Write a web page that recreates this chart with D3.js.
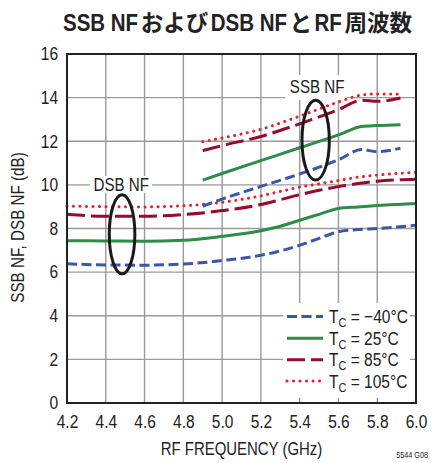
<!DOCTYPE html>
<html>
<head>
<meta charset="utf-8">
<script src="https://cdn.jsdelivr.net/npm/d3@7/dist/d3.min.js"></script>
<style>
  html, body { margin: 0; padding: 0; background: #fff; }
  svg { display: block; }
  text { font-family: "Liberation Sans", Arial, sans-serif; fill: #222; }
</style>
</head>
<body>
<svg id="chart" width="433" height="463"></svg>
<script>
// Noise figure vs RF frequency, four case temperatures
const dsbFreq = [4.2, 4.4, 4.6, 4.8, 5.0, 5.2, 5.3, 5.4, 5.5, 5.6, 5.7, 5.8, 5.9, 6.0];
const dsbM40  = [6.38, 6.33, 6.32, 6.37, 6.53, 6.77, 6.97, 7.23, 7.55, 7.85, 7.95, 8.0, 8.07, 8.15];
const dsb25   = [7.44, 7.43, 7.42, 7.46, 7.64, 7.9, 8.1, 8.38, 8.65, 8.92, 8.99, 9.05, 9.1, 9.15];
const dsb85   = [8.65, 8.56, 8.56, 8.64, 8.82, 9.1, 9.32, 9.55, 9.75, 9.92, 10.06, 10.17, 10.23, 10.26];
const dsb105  = [9.03, 9.0, 8.99, 9.04, 9.2, 9.5, 9.7, 9.9, 10.05, 10.2, 10.35, 10.45, 10.52, 10.57];

const ssbFreq = [4.9, 5.0, 5.2, 5.4, 5.6, 5.72, 5.8, 5.92];
const ssbM40  = [9.02, 9.35, 9.93, 10.5, 11.15, 11.62, 11.52, 11.68];
const ssb25   = [10.22, 10.52, 11.11, 11.7, 12.29, 12.68, 12.72, 12.76];
const ssb85   = [11.57, 11.8, 12.22, 12.8, 13.45, 13.88, 13.83, 13.98];
const ssb105  = [11.98, 12.15, 12.55, 13.15, 13.8, 14.12, 14.17, 14.17];

const xTicks = [4.2, 4.4, 4.6, 4.8, 5.0, 5.2, 5.4, 5.6, 5.8, 6.0];
const yTicks = [0, 2, 4, 6, 8, 10, 12, 14, 16];
const tempLabels = ["\u221240\u00B0C", "25\u00B0C", "85\u00B0C", "105\u00B0C"];
const titleParts = ["SSB NF", "および", "DSB NF", "と", "RF", "周波数"];

const styles = [
  { color: "#3a57a8", dash: "10,4.5", cap: "butt" },
  { color: "#2e8b48", dash: null, cap: "butt" },
  { color: "#970a2d", dash: "18,6", cap: "butt" },
  { color: "#e8212e", dash: "0.1,6.4", cap: "round" }
];

const NARROW = 0.84; // horizontal squeeze giving a condensed sans look

// squeeze single-run texts to a condensed width, keeping their anchor
function condense(sel, k) {
  sel.each(function () {
    const w = this.getComputedTextLength();
    d3.select(this).attr("textLength", w * k).attr("lengthAdjust", "spacingAndGlyphs");
  });
}

const margin = { left: 67, top: 54, right: 17, bottom: 60 };
const W = 433, H = 463;
const pw = W - margin.left - margin.right;
const ph = H - margin.top - margin.bottom;

const svg = d3.select("#chart");
const g = svg.append("g").attr("transform", `translate(${margin.left},${margin.top})`);

const x = d3.scaleLinear().domain([4.2, 6.0]).range([0, pw]);
const y = d3.scaleLinear().domain([0, 16]).range([ph, 0]);

// grid
g.append("g").selectAll("line").data(xTicks).join("line")
  .attr("x1", d => x(d)).attr("x2", d => x(d)).attr("y1", 0).attr("y2", ph)
  .attr("stroke", "#9a9a9a").attr("stroke-width", 1.4);
g.append("g").selectAll("line").data(yTicks).join("line")
  .attr("x1", 0).attr("x2", pw).attr("y1", d => y(d)).attr("y2", d => y(d))
  .attr("stroke", "#9a9a9a").attr("stroke-width", 1.4);

// axes (labels only; the frame is drawn separately)
const xAxis = g.append("g").attr("transform", `translate(0,${ph})`)
  .call(d3.axisBottom(x).tickValues(xTicks).tickFormat(d3.format(".1f")).tickSize(0).tickPadding(9));
const yAxis = g.append("g")
  .call(d3.axisLeft(y).tickValues(yTicks).tickFormat(d3.format("d")).tickSize(0).tickPadding(9));
[xAxis, yAxis].forEach(a => {
  a.select(".domain").remove();
  a.selectAll("text").attr("font-size", 18).attr("fill", "#222")
    .style("font-family", '"Liberation Sans", Arial, sans-serif');
  condense(a.selectAll("text"), 0.86);
});
xAxis.selectAll("text").attr("dy", "0.9em");

// white boxes behind the annotation labels
g.append("rect").attr("x", 23).attr("y", 122).attr("width", 62).attr("height", 17).attr("fill", "#fff");
g.append("rect").attr("x", 218).attr("y", 21).attr("width", 62).attr("height", 25).attr("fill", "#fff");

// curves
const line = d3.line().x(d => x(d[0])).y(d => y(d[1])).curve(d3.curveMonotoneX);
const dsbSeries = [dsbM40, dsb25, dsb85, dsb105];
const ssbSeries = [ssbM40, ssb25, ssb85, ssb105];

function drawSeries(freqs, values, st) {
  g.append("path")
    .datum(freqs.map((f, i) => [f, values[i]]))
    .attr("d", line)
    .attr("fill", "none")
    .attr("stroke", st.color)
    .attr("stroke-width", 3)
    .attr("stroke-linecap", st.cap)
    .attr("stroke-dasharray", st.dash);
}
dsbSeries.forEach((v, i) => drawSeries(dsbFreq, v, styles[i]));
ssbSeries.forEach((v, i) => drawSeries(ssbFreq, v, styles[i]));

// annotation ellipses and labels
function ellipse(f0, f1, v0, v1) {
  g.append("ellipse")
    .attr("cx", (x(f0) + x(f1)) / 2).attr("cy", (y(v0) + y(v1)) / 2)
    .attr("rx", (x(f1) - x(f0)) / 2).attr("ry", (y(v0) - y(v1)) / 2)
    .attr("fill", "none").attr("stroke", "#1a1a1a").attr("stroke-width", 3);
}
ellipse(4.418, 4.55, 5.92, 9.55);
ellipse(5.412, 5.553, 10.22, 13.88);

const dsbLab = g.append("text").attr("x", x(4.48)).attr("y", y(10) + 6.5)
  .attr("text-anchor", "middle").attr("font-size", 18).text("DSB NF");
const ssbLab = g.append("text").attr("x", x(5.49)).attr("y", y(14) - 4.5)
  .attr("text-anchor", "middle").attr("font-size", 18).text("SSB NF");
condense(dsbLab, NARROW);
condense(ssbLab, NARROW);

// legend
const lg = g.append("g");
lg.append("rect").attr("x", 216).attr("y", 249).attr("width", 127).attr("height", 95).attr("fill", "#fff");
const rowY = [262.5, 284.2, 305.8, 327];
tempLabels.forEach((lab, i) => {
  const st = styles[i];
  lg.append("line").attr("x1", 220).attr("x2", 256).attr("y1", rowY[i]).attr("y2", rowY[i])
    .attr("stroke", st.color).attr("stroke-width", 3)
    .attr("stroke-linecap", st.cap).attr("stroke-dasharray", st.dash);
  const t = lg.append("text")
    .attr("transform", `translate(262,${rowY[i] + 6.5}) scale(${NARROW},1)`)
    .attr("font-size", 18.5);
  t.append("tspan").text("T");
  t.append("tspan").attr("dy", 4).attr("font-size", 13).text("C");
  t.append("tspan").attr("dy", -4).text(" = " + lab);
});

// frame
g.append("rect").attr("x", 0).attr("y", 0).attr("width", pw).attr("height", ph)
  .attr("fill", "none").attr("stroke", "#222").attr("stroke-width", 2);

// axis titles
const xTitle = svg.append("text").attr("x", margin.left + pw / 2).attr("y", 455)
  .attr("text-anchor", "middle").attr("font-size", 18).text("RF FREQUENCY (GHz)");
const yTitle = svg.append("text").attr("transform", `translate(24,${margin.top + ph / 2 - 1}) rotate(-90)`)
  .attr("text-anchor", "middle").attr("font-size", 18).text("SSB NF, DSB NF (dB)");
condense(xTitle, 0.83);
condense(yTitle, 0.845);

// title: condensed bold Latin runs and CJK runs laid out one after another,
// then the whole line is scaled to span the plot width
const titleG = svg.append("g");
let cursor = 0;
titleParts.forEach((s, i) => {
  const cjk = /[\u3040-\u30ff\u4e00-\u9fff]/.test(s);
  const k = cjk ? 1 : 0.835;
  const t = titleG.append("text")
    .attr("font-weight", "bold")
    .attr("font-size", cjk ? 22.5 : 24.5)
    .style("font-family", cjk ? '"Noto Sans CJK JP", sans-serif' : '"Liberation Sans", Arial, sans-serif')
    .text(s);
  const w = t.node().getComputedTextLength() * k;
  t.attr("transform", `translate(${cursor},0) scale(${k},1)`);
  cursor += w + (i < titleParts.length - 1 ? 2.5 : 0);
});
const titleW = 349;
titleG.attr("transform", `translate(63,31) scale(${titleW / cursor},1)`);

// figure code
svg.append("text").attr("transform", "translate(428,457.5) scale(0.85,1)")
  .attr("text-anchor", "end").attr("font-size", 8.5).text("5544 G08");
</script>
</body>
</html>
